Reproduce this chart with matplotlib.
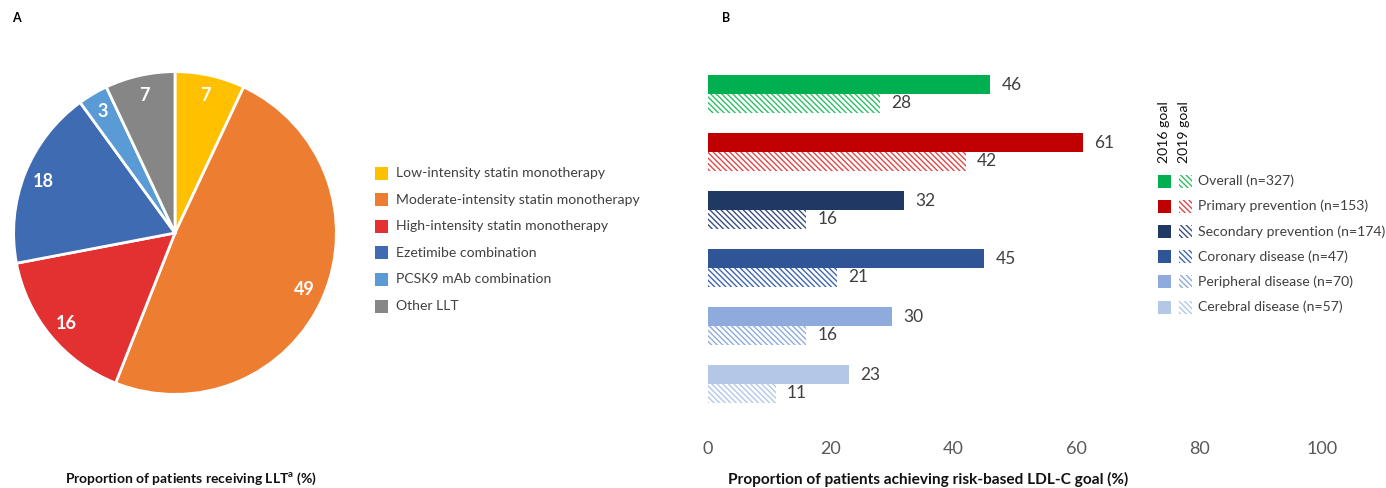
import matplotlib
matplotlib.use("Agg")
import matplotlib.pyplot as plt
from matplotlib.patches import Rectangle
import numpy as np

plt.rcParams['font.family'] = ['Lato', 'DejaVu Sans']
plt.rcParams['mathtext.fontset'] = 'custom'
plt.rcParams['mathtext.bf'] = 'Lato:bold'
plt.rcParams['mathtext.rm'] = 'Lato'
plt.rcParams['hatch.linewidth'] = 1.0

# ---- Panel A data ----
llt_categories = ["Low-intensity statin monotherapy",
                  "Moderate-intensity statin monotherapy",
                  "High-intensity statin monotherapy",
                  "Ezetimibe combination",
                  "PCSK9 mAb combination",
                  "Other LLT"]
llt_values = [7, 49, 16, 18, 3, 7]
llt_colors = ["#FFC000", "#ED7D31", "#E33030", "#3F6BB3", "#5B9BD5", "#868686"]

# ---- Panel B data ----
groups = ["Overall (n=327)", "Primary prevention (n=153)", "Secondary prevention (n=174)",
          "Coronary disease (n=47)", "Peripheral disease (n=70)", "Cerebral disease (n=57)"]
goal_2016 = [46, 61, 32, 45, 30, 23]
goal_2019 = [28, 42, 16, 21, 16, 11]
group_colors = ["#00B050", "#C00000", "#203864", "#2F5597", "#8FAADC", "#B4C7E7"]
hatch_colors = ["#2EBF66", "#E04848", "#3A4F80", "#3F67B0", "#8FAADC", "#B4C7E7"]
xticks = [0, 20, 40, 60, 80, 100]

W, H = 1386, 488
fig = plt.figure(figsize=(W / 100, H / 100), dpi=100)

def fx(px):
    return px / W

def fy(py):
    return 1 - py / H

# ---- Panel A: pie ----
axp = fig.add_axes([fx(12), fy(396), fx(326), 326 / H])
axp.pie(llt_values, colors=llt_colors, startangle=90, counterclock=False,
        wedgeprops=dict(edgecolor='white', linewidth=2))
tot = sum(llt_values)
ang = 90.0
for v in llt_values:
    mid = np.deg2rad(ang - v / tot * 360 / 2)
    axp.text(0.875 * np.cos(mid), 0.875 * np.sin(mid), str(v), ha='center', va='center',
             color='white', fontsize=13, fontweight='bold')
    ang -= v / tot * 360
axp.set_xlim(-1.01, 1.01)
axp.set_ylim(-1.01, 1.01)
axp.set_aspect('equal')

# pie legend
for i, (lab, col) in enumerate(zip(llt_categories, llt_colors)):
    yc = 173 + i * 26.6
    fig.add_artist(Rectangle((fx(375), fy(yc + 6.5)), fx(13), 13 / H, transform=fig.transFigure,
                             facecolor=col, edgecolor='none'))
    fig.text(fx(396), fy(yc), lab, ha='left', va='center', fontsize=10.1, color='#404040')

fig.text(fx(12), fy(18), "A", fontsize=9, fontweight='bold', ha='left', va='center')
fig.text(fx(191), fy(479), r"Proportion of patients receiving LLT$^{\mathbf{a}}$ (%)",
         fontsize=10, fontweight='bold', ha='center', va='center', color='#111111')

# ---- Panel B: bars ----
axb = fig.add_axes([fx(708), fy(413), fx(614), 348 / H])
y = np.arange(len(groups))
bh = 19 / 58
b1 = axb.barh(y - bh / 2, goal_2016, height=bh, color=group_colors, edgecolor='none')
b2 = axb.barh(y + bh / 2, goal_2019, height=bh, color='white', edgecolor=hatch_colors,
              hatch='\\\\\\\\\\\\', linewidth=0)
axb.bar_label(b1, labels=[str(v) for v in goal_2016], padding=8, fontsize=12.5, color='#404040')
axb.bar_label(b2, labels=[str(v) for v in goal_2019], padding=8, fontsize=12.5, color='#404040')
axb.set_xlim(0, 100)
axb.set_ylim(len(groups) - 0.5, -0.5)
axb.set_xticks(xticks)
axb.set_xticklabels([str(t) for t in xticks], fontsize=13, color='#595959')
axb.tick_params(axis='x', length=0, pad=20)
axb.set_yticks([])
for s in axb.spines.values():
    s.set_visible(False)
axb.patch.set_alpha(0)

# bar legend
fig.text(fx(1164), fy(132), "2016 goal", rotation=90, ha='center', va='center', fontsize=10.1, color='#111111')
fig.text(fx(1184), fy(132), "2019 goal", rotation=90, ha='center', va='center', fontsize=10.1, color='#111111')
for i, (lab, c1, c2) in enumerate(zip(groups, group_colors, hatch_colors)):
    yc = 181 + i * 25.2
    fig.add_artist(Rectangle((fx(1158), fy(yc + 6.5)), fx(13), 13 / H, transform=fig.transFigure,
                             facecolor=c1, edgecolor='none'))
    fig.add_artist(Rectangle((fx(1179), fy(yc + 6.5)), fx(13), 13 / H, transform=fig.transFigure,
                             facecolor='white', edgecolor=c2, hatch='\\\\\\\\\\\\', linewidth=0))
    fig.text(fx(1198), fy(yc), lab, ha='left', va='center', fontsize=10.1, color='#404040')

fig.text(fx(722), fy(18), "B", fontsize=9, fontweight='bold', ha='left', va='center')
fig.text(fx(928), fy(479), "Proportion of patients achieving risk-based LDL-C goal (%)",
         fontsize=11.1, fontweight='bold', ha='center', va='center', color='#111111')

fig.savefig("out.png", dpi=100)
